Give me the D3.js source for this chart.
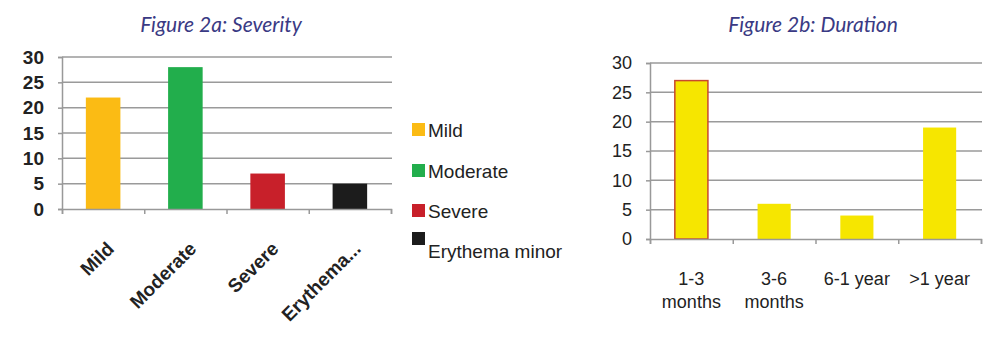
<!DOCTYPE html>
<html lang="en">
<head>
  <meta charset="UTF-8">
  <title>Figure 2</title>
  <style>
    body { margin: 0; background: #fff; }
    .title { font-family: Lato, "Open Sans", sans-serif; font-style: italic; font-size: 21px; fill: #3a3a84; }
    .tickL { font-family: "Liberation Sans", Arial, sans-serif; font-weight: bold; font-size: 19px; fill: #222; }
    .tickR { font-family: "Liberation Sans", Arial, sans-serif; font-size: 18px; fill: #222; }
    .legend { font-family: "Liberation Sans", Arial, sans-serif; font-size: 19px; fill: #222; }
  </style>
</head>
<body>
<svg></svg>
<script src="https://cdn.jsdelivr.net/npm/d3@7"></script>
<script>
  // Figure 2a data
  var severityCats = ["Mild", "Moderate", "Severe", "Erythema..."];
  var severityNames = ["Mild", "Moderate", "Severe", "Erythema minor"];
  var severityValues = [22, 28, 7, 5];
  var severityColors = ["#fbbb14", "#22ae4c", "#c8202a", "#1c1c1c"];

  // Figure 2b data
  var durationCats = [["1-3", "months"], ["3-6", "months"], ["6-1 year"], [">1 year"]];
  var durationValues = [27, 6, 4, 19];

  var yTicks = [0, 5, 10, 15, 20, 25, 30];

  var svg = d3.select("svg").attr("width", 1000).attr("height", 341);

  // ---- left chart ----
  var xL = d3.scaleBand().domain(severityCats).range([62, 391]).paddingInner(0.58).paddingOuter(0.29);
  var yL = d3.scaleLinear().domain([0, 30]).range([209, 57]);

  var left = svg.append("g");

  left.append("text").attr("class", "title")
    .attr("x", 221).attr("y", 32).attr("text-anchor", "middle")
    .text("Figure 2a: Severity");

  // gridlines
  left.append("g").selectAll("line")
    .data(yTicks.filter(d => d > 0))
    .join("line")
    .attr("x1", 62).attr("x2", 392)
    .attr("y1", d => yL(d)).attr("y2", d => yL(d))
    .attr("stroke", "#9a9a9a").attr("stroke-width", 1.5);

  // y axis
  var yAxisL = left.append("g").attr("transform", "translate(62,0)")
    .call(d3.axisLeft(yL).tickValues(yTicks).tickSize(4).tickPadding(14));
  yAxisL.selectAll("line, path").attr("stroke", "#999").attr("stroke-width", 1.5);
  yAxisL.selectAll("text").attr("class", "tickL").attr("font-size", null).attr("font-family", null);

  // bars
  left.append("g").selectAll("rect")
    .data(severityValues)
    .join("rect")
    .attr("x", (d, i) => xL(severityCats[i]))
    .attr("y", d => yL(d))
    .attr("width", xL.bandwidth())
    .attr("height", d => yL(0) - yL(d))
    .attr("fill", (d, i) => severityColors[i]);

  // x axis
  var xAxisL = left.append("g").attr("transform", "translate(0,209)")
    .call(d3.axisBottom(d3.scaleLinear().domain([0, 4]).range([62, 391])).ticks(4).tickSize(5).tickFormat(""));
  xAxisL.selectAll("line, path").attr("stroke", "#999").attr("stroke-width", 1.5);

  left.append("g").selectAll("text")
    .data(severityCats)
    .join("text")
    .attr("class", "tickL")
    .attr("font-size", "21px")
    .attr("text-anchor", "end")
    .attr("transform", d => "translate(" + (xL(d) + xL.bandwidth() / 2 + 12) + ",250) rotate(-45)")
    .text(d => d);

  // legend
  var legendY = [137, 178, 218, 258];
  var lg = svg.append("g").attr("transform", "translate(412,0)");
  lg.selectAll("rect")
    .data(severityNames)
    .join("rect")
    .attr("x", 0)
    .attr("y", (d, i) => i < 3 ? legendY[i] - 14 : 232)
    .attr("width", 13).attr("height", 13)
    .attr("fill", (d, i) => severityColors[i]);
  lg.selectAll("text")
    .data(severityNames)
    .join("text")
    .attr("class", "legend")
    .attr("x", 16)
    .attr("y", (d, i) => legendY[i])
    .text(d => d);

  // ---- right chart ----
  var xR = d3.scaleBand().domain(durationCats.map(d => d.join(" "))).range([650, 981]).paddingInner(0.6).paddingOuter(0.3);
  var yR = d3.scaleLinear().domain([0, 30]).range([239, 63]);

  var right = svg.append("g");

  right.append("text").attr("class", "title")
    .attr("x", 813).attr("y", 32).attr("text-anchor", "middle")
    .text("Figure 2b: Duration");

  right.append("g").selectAll("line")
    .data(yTicks.filter(d => d > 0))
    .join("line")
    .attr("x1", 650).attr("x2", 982)
    .attr("y1", d => yR(d)).attr("y2", d => yR(d))
    .attr("stroke", "#9a9a9a").attr("stroke-width", 1.5);

  var yAxisR = right.append("g").attr("transform", "translate(650,0)")
    .call(d3.axisLeft(yR).tickValues(yTicks).tickSize(4).tickPadding(14));
  yAxisR.selectAll("line, path").attr("stroke", "#999").attr("stroke-width", 1.5);
  yAxisR.selectAll("text").attr("class", "tickR").attr("font-size", null).attr("font-family", null);

  right.append("g").selectAll("rect")
    .data(durationValues)
    .join("rect")
    .attr("x", (d, i) => xR(durationCats[i].join(" ")))
    .attr("y", d => yR(d))
    .attr("width", xR.bandwidth())
    .attr("height", d => yR(0) - yR(d))
    .attr("fill", "#f6e600")
    .attr("stroke", (d, i) => i === 0 ? "#c8482e" : "none")
    .attr("stroke-width", 1.5);

  var xAxisR = right.append("g").attr("transform", "translate(0,239)")
    .call(d3.axisBottom(d3.scaleLinear().domain([0, 4]).range([650, 981])).ticks(4).tickSize(5).tickFormat(""));
  xAxisR.selectAll("line, path").attr("stroke", "#999").attr("stroke-width", 1.5);

  var xl = right.append("g").selectAll("text")
    .data(durationCats)
    .join("text")
    .attr("class", "tickR")
    .attr("font-size", "17px")
    .attr("text-anchor", "middle")
    .attr("x", d => xR(d.join(" ")) + xR.bandwidth() / 2)
    .attr("y", 285);
  xl.selectAll("tspan")
    .data(d => d)
    .join("tspan")
    .attr("x", function() { return this.parentNode.getAttribute("x"); })
    .attr("dy", (d, i) => i === 0 ? 0 : 23)
    .text(d => d);
</script>
</body>
</html>
